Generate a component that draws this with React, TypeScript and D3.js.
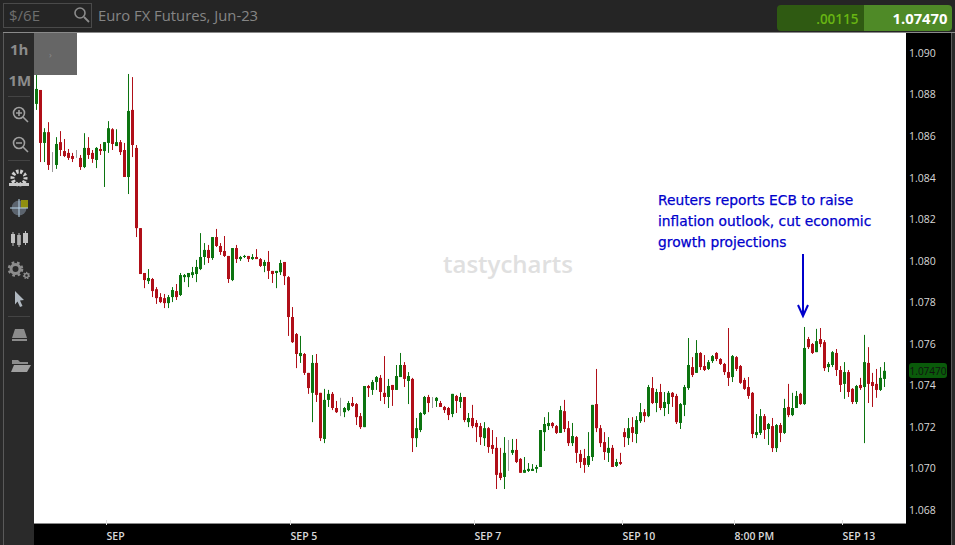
import React, { useRef, useEffect } from "react";
import * as d3 from "d3";

const opens = [
  1.08755,1.08822,1.08567,1.08619,1.08485,1.08461,1.08571,1.08528,1.08519,1.08504,
  1.08509,1.08495,1.08451,1.08543,1.08519,1.08485,1.08538,1.08528,1.08567,1.08633,
  1.08552,1.08571,1.08533,1.08403,1.08726,1.08543,1.08157,1.07941,1.07902,1.07912,
  1.07863,1.07825,1.07820,1.07796,1.07825,1.07854,1.07835,1.07921,1.07921,1.07931,
  1.07936,1.07960,1.08018,1.08052,1.08013,1.08114,1.08071,1.08047,1.08023,1.07907,
  1.08061,1.08008,1.08018,1.08023,1.08008,1.08018,1.08008,1.07975,1.07994,1.07951,
  1.07941,1.07945,1.07994,1.07921,1.07729,1.07647,1.07541,1.07551,1.07460,1.07364,
  1.07508,1.07364,1.07142,1.07330,1.07359,1.07291,1.07296,1.07271,1.07281,1.07315,
  1.07310,1.07252,1.07199,1.07397,1.07378,1.07416,1.07436,1.07364,1.07344,1.07402,
  1.07378,1.07440,1.07498,1.07421,1.07431,1.07146,1.07185,1.07262,1.07344,1.07320,
  1.07325,1.07315,1.07296,1.07291,1.07262,1.07349,1.07320,1.07344,1.07223,1.07243,
  1.07219,1.07204,1.07146,1.07194,1.07113,1.07099,1.06979,1.06959,1.07075,1.07075,
  1.07089,1.07046,1.06979,1.06988,1.06988,1.06998,1.07007,1.07175,1.07204,1.07219,
  1.07204,1.07171,1.07276,1.07194,1.07122,1.07151,1.07070,1.07050,1.07017,1.07055,
  1.07310,1.07194,1.07127,1.07075,1.07099,1.07012,1.07031,1.07175,1.07146,1.07199,
  1.07166,1.07228,1.07271,1.07252,1.07387,1.07315,1.07368,1.07291,1.07310,1.07364,
  1.07349,1.07219,1.07306,1.07387,1.07488,1.07460,1.07556,1.07493,1.07479,1.07517,
  1.07556,1.07527,1.07503,1.07464,1.07440,1.07536,1.07493,1.07426,1.07392,1.07364,
  1.07161,1.07171,1.07252,1.07190,1.07204,1.07098,1.07209,1.07171,1.07296,1.07257,
  1.07291,1.07359,1.07310,1.07623,1.07599,1.07560,1.07623,1.07608,1.07488,1.07498,
  1.07556,1.07474,1.07407,1.07464,1.07383,1.07320,1.07402,1.07392,1.07508,1.07416,
  1.07407,1.07378,1.07431,
];

const closes = [
  1.08827,1.08567,1.08619,1.08461,1.08485,1.08562,1.08533,1.08504,1.08495,1.08490,
  1.08509,1.08451,1.08543,1.08509,1.08490,1.08543,1.08528,1.08571,1.08638,1.08562,
  1.08571,1.08523,1.08403,1.08721,1.08557,1.08157,1.07936,1.07907,1.07917,1.07854,
  1.07820,1.07801,1.07796,1.07825,1.07859,1.07825,1.07931,1.07931,1.07941,1.07945,
  1.07970,1.08018,1.08052,1.08013,1.08114,1.08071,1.08042,1.08023,1.07912,1.08061,
  1.08008,1.08018,1.08023,1.08008,1.08018,1.08008,1.07975,1.07994,1.07951,1.07936,
  1.07951,1.07989,1.07926,1.07729,1.07608,1.07551,1.07556,1.07460,1.07387,1.07508,
  1.07354,1.07146,1.07330,1.07359,1.07291,1.07271,1.07296,1.07291,1.07315,1.07301,
  1.07247,1.07199,1.07397,1.07387,1.07416,1.07440,1.07368,1.07344,1.07397,1.07378,
  1.07445,1.07498,1.07431,1.07445,1.07146,1.07194,1.07267,1.07344,1.07315,1.07320,
  1.07340,1.07296,1.07281,1.07257,1.07359,1.07325,1.07344,1.07233,1.07243,1.07204,
  1.07199,1.07151,1.07194,1.07103,1.07094,1.06969,1.06954,1.07075,1.07075,1.07089,
  1.07031,1.06979,1.06993,1.06998,1.06998,1.07007,1.07185,1.07214,1.07219,1.07204,
  1.07171,1.07281,1.07190,1.07122,1.07156,1.07075,1.07031,1.07017,1.07060,1.07306,
  1.07194,1.07122,1.07079,1.07099,1.07007,1.07031,1.07022,1.07151,1.07194,1.07171,
  1.07233,1.07271,1.07252,1.07392,1.07315,1.07368,1.07291,1.07320,1.07364,1.07344,
  1.07223,1.07310,1.07392,1.07498,1.07450,1.07556,1.07488,1.07474,1.07512,1.07541,
  1.07527,1.07503,1.07464,1.07436,1.07541,1.07479,1.07412,1.07383,1.07349,1.07166,
  1.07175,1.07252,1.07185,1.07214,1.07098,1.07209,1.07171,1.07291,1.07257,1.07291,
  1.07349,1.07310,1.07580,1.07584,1.07556,1.07613,1.07599,1.07483,1.07503,1.07560,
  1.07474,1.07402,1.07464,1.07368,1.07320,1.07397,1.07387,1.07512,1.07407,1.07397,
  1.07378,1.07436,1.07470,
];

const highs = [
  1.08908,1.08822,1.08638,1.08667,1.08523,1.08595,1.08624,1.08586,1.08538,1.08519,
  1.08533,1.08509,1.08614,1.08595,1.08533,1.08547,1.08562,1.08571,1.08672,1.08638,
  1.08633,1.08581,1.08567,1.08899,1.08884,1.08557,1.08157,1.07941,1.07960,1.07917,
  1.07873,1.07844,1.07840,1.07835,1.07873,1.07888,1.07941,1.07936,1.07941,1.07970,
  1.08004,1.08133,1.08085,1.08076,1.08114,1.08153,1.08085,1.08119,1.08023,1.08061,
  1.08076,1.08023,1.08028,1.08023,1.08032,1.08056,1.08013,1.08004,1.08047,1.07951,
  1.07951,1.08004,1.07994,1.07926,1.07777,1.07652,1.07638,1.07556,1.07460,1.07546,
  1.07551,1.07364,1.07383,1.07378,1.07368,1.07325,1.07340,1.07296,1.07325,1.07344,
  1.07315,1.07267,1.07397,1.07402,1.07426,1.07445,1.07450,1.07541,1.07431,1.07402,
  1.07498,1.07556,1.07512,1.07464,1.07436,1.07243,1.07271,1.07349,1.07354,1.07344,
  1.07344,1.07325,1.07301,1.07296,1.07359,1.07354,1.07364,1.07344,1.07267,1.07306,
  1.07233,1.07219,1.07223,1.07199,1.07185,1.07151,1.07099,1.07151,1.07137,1.07142,
  1.07142,1.07050,1.07055,1.07026,1.07021,1.07017,1.07185,1.07247,1.07271,1.07223,
  1.07209,1.07301,1.07330,1.07228,1.07219,1.07156,1.07089,1.07094,1.07175,1.07306,
  1.07479,1.07209,1.07175,1.07151,1.07113,1.07046,1.07075,1.07194,1.07243,1.07247,
  1.07252,1.07315,1.07286,1.07402,1.07440,1.07383,1.07407,1.07368,1.07373,1.07368,
  1.07359,1.07315,1.07402,1.07628,1.07536,1.07618,1.07560,1.07546,1.07522,1.07546,
  1.07560,1.07531,1.07508,1.07676,1.07546,1.07541,1.07498,1.07436,1.07440,1.07368,
  1.07262,1.07286,1.07262,1.07219,1.07243,1.07214,1.07219,1.07335,1.07407,1.07364,
  1.07373,1.07364,1.07681,1.07633,1.07604,1.07672,1.07676,1.07618,1.07512,1.07565,
  1.07575,1.07493,1.07512,1.07474,1.07387,1.07402,1.07436,1.07643,1.07584,1.07460,
  1.07479,1.07488,1.07512,
];

const lows = [
  1.08726,1.08475,1.08475,1.08437,1.08427,1.08442,1.08504,1.08499,1.08485,1.08475,
  1.08495,1.08437,1.08446,1.08490,1.08471,1.08446,1.08509,1.08355,1.08519,1.08533,
  1.08552,1.08509,1.08403,1.08321,1.08499,1.08114,1.07936,1.07868,1.07888,1.07825,
  1.07792,1.07796,1.07772,1.07772,1.07801,1.07811,1.07830,1.07897,1.07873,1.07917,
  1.07897,1.07955,1.07980,1.07989,1.08004,1.08066,1.08028,1.08018,1.07893,1.07902,
  1.07989,1.07999,1.08013,1.07994,1.08004,1.08008,1.07970,1.07945,1.07912,1.07893,
  1.07868,1.07931,1.07883,1.07638,1.07604,1.07483,1.07508,1.07450,1.07359,1.07223,
  1.07320,1.07132,1.07122,1.07296,1.07281,1.07267,1.07252,1.07247,1.07276,1.07296,
  1.07209,1.07190,1.07199,1.07344,1.07354,1.07378,1.07325,1.07310,1.07291,1.07301,
  1.07378,1.07440,1.07392,1.07310,1.07079,1.07103,1.07175,1.07257,1.07271,1.07291,
  1.07296,1.07296,1.07267,1.07233,1.07247,1.07267,1.07291,1.07223,1.07199,1.07194,
  1.07127,1.07113,1.07108,1.07075,1.07070,1.06901,1.06944,1.06901,1.06988,1.07065,
  1.07026,1.06979,1.06979,1.06983,1.06988,1.06979,1.07007,1.07084,1.07185,1.07194,
  1.07166,1.07171,1.07175,1.07108,1.07108,1.07026,1.07002,1.06979,1.07007,1.07036,
  1.07175,1.07103,1.07041,1.07031,1.07007,1.07007,1.07017,1.07103,1.07113,1.07127,
  1.07122,1.07219,1.07223,1.07247,1.07310,1.07271,1.07281,1.07252,1.07262,1.07296,
  1.07214,1.07190,1.07252,1.07378,1.07440,1.07460,1.07474,1.07469,1.07474,1.07508,
  1.07517,1.07498,1.07450,1.07397,1.07416,1.07469,1.07407,1.07378,1.07335,1.07146,
  1.07146,1.07161,1.07142,1.07113,1.07079,1.07079,1.07127,1.07166,1.07247,1.07252,
  1.07291,1.07306,1.07306,1.07575,1.07551,1.07560,1.07584,1.07469,1.07464,1.07488,
  1.07445,1.07368,1.07335,1.07344,1.07310,1.07310,1.07378,1.07122,1.07315,1.07296,
  1.07340,1.07373,1.07392,
];

const priceTicks = [1.068, 1.07, 1.072, 1.074, 1.076, 1.078, 1.08, 1.082, 1.084, 1.086, 1.088, 1.09];
const timeTickIndex = [18, 64, 110, 147, 175, 202];
const timeTickLabels = ["SEP", "SEP 5", "SEP 7", "SEP 10", "8:00 PM", "SEP 13"];
const lastPrice = 1.0747;
const noteLines = [
  "Reuters reports ECB to raise",
  "inflation outlook, cut economic",
  "growth projections",
];
const noteCandle = 192;

const UP = "#0c7410";
const DOWN = "#b00f18";
const DOJI = "#9a9a9a";
const NOTE = "#0000cc";
const FONT = "'Open Sans', sans-serif";

// slots are 4px wide, the half pixel keeps 1px wicks on one pixel column
const x = d3.scaleBand<number>().domain(d3.range(opens.length)).range([34.5, 34.5 + 4 * opens.length]);
const y = d3.scaleLinear().domain([1.068, 1.09]).range([510, 53]);

const Chart = () => {
  const ref = useRef<SVGGElement>(null);

  useEffect(() => {
    const g = d3.select(ref.current);
    g.selectAll("*").remove();

    const mid = (i: number) => (x(i) as number) + x.bandwidth() / 2;
    const color = (i: number) => (closes[i] > opens[i] ? UP : closes[i] < opens[i] ? DOWN : DOJI);

    const candles = g
      .append("g")
      .attr("clip-path", "url(#plot)")
      .selectAll("g")
      .data(d3.range(opens.length))
      .enter()
      .append("g");

    candles
      .append("line")
      .attr("x1", mid)
      .attr("x2", mid)
      .attr("y1", (i) => y(highs[i]))
      .attr("y2", (i) => y(lows[i]))
      .attr("stroke", color)
      .attr("stroke-width", 1);

    candles
      .filter((i) => opens[i] !== closes[i])
      .append("rect")
      .attr("x", (i) => mid(i) - 1.5)
      .attr("width", 3)
      .attr("y", (i) => y(Math.max(opens[i], closes[i])))
      .attr("height", (i) => Math.max(1, Math.abs(y(opens[i]) - y(closes[i]))))
      .attr("fill", color);

    // right axis
    const yAxis = g
      .append("g")
      .attr("transform", "translate(906,0)")
      .call(d3.axisRight(y).tickValues(priceTicks).tickFormat(d3.format(".3f")).tickSize(0).tickPadding(3));
    yAxis.select(".domain").remove();
    yAxis
      .selectAll("text")
      .attr("fill", "#d8d8d8")
      .attr("font-family", FONT)
      .attr("font-size", 10.5);

    // bottom axis, ticks sit on the left edge of the candle slot and labels start there
    const xAxis = g
      .append("g")
      .attr("transform", "translate(0,524)")
      .call(
        d3
          .axisBottom(x)
          .tickValues(timeTickIndex)
          .tickFormat((_, k) => timeTickLabels[k])
          .tickSize(0)
      );
    xAxis.select(".domain").remove();
    xAxis.selectAll(".tick").attr("transform", (d: any) => `translate(${x(d) as number},0)`);
    xAxis
      .selectAll(".tick line")
      .attr("y1", -4)
      .attr("y2", 1)
      .attr("stroke", "#dddddd");
    xAxis
      .selectAll(".tick text")
      .attr("text-anchor", "start")
      .attr("y", 8.5)
      .attr("x", 0)
      .attr("fill", "#d8d8d8")
      .attr("font-family", FONT)
      .attr("font-weight", 600)
      .attr("font-size", 10.5);

    // annotation arrow
    const ax = mid(noteCandle) - 1.5;
    g.append("path")
      .attr("d", d3.line()([[ax, 254], [ax, 316]]) as string)
      .attr("stroke", NOTE)
      .attr("stroke-width", 2)
      .attr("fill", "none");
    g.append("path")
      .attr("d", d3.line()([[ax - 5, 305], [ax, 316], [ax + 5, 305]]) as string)
      .attr("stroke", NOTE)
      .attr("stroke-width", 2)
      .attr("fill", "none");
  }, []);

  return <g ref={ref} />;
};

const Gear = ({ cx, cy, r, w }: { cx: number; cy: number; r: number; w: number }) => (
  <g fill="none" stroke="#8c8c8c">
    <circle cx={cx} cy={cy} r={r} strokeWidth={w} />
    <circle cx={cx} cy={cy} r={r + w * 0.7} strokeWidth={w * 0.8} strokeDasharray={`${w * 0.9} ${w * 0.9}`} />
  </g>
);

const Toolbar = () => (
  <g>
    <text x={10} y={55} fontFamily={FONT} fontWeight={700} fontSize={15} fill="#8c8c8c">1h</text>
    <text x={8.5} y={86} fontFamily={FONT} fontWeight={700} fontSize={15} fill="#8c8c8c">1M</text>
    <rect x={8} y={96} width={22} height={1} fill="#444" />
    <rect x={8} y={160} width={22} height={1} fill="#444" />
    <rect x={8} y={316} width={22} height={1} fill="#444" />
    {/* zoom in */}
    <g stroke="#a0a0a0" fill="none" strokeWidth={1.6}>
      <circle cx={19} cy={113} r={5.5} />
      <path d="M23 117l5 5M16 113h6M19 110v6" />
      <circle cx={19} cy={143} r={5.5} />
      <path d="M23 147l5 5M16 143h6" />
    </g>
    {/* speed gauge */}
    <circle cx={19} cy={178} r={6.5} fill="none" stroke="#d0d0d0" strokeWidth={4} strokeDasharray="2.5 1.5" strokeDashoffset={1} />
    <path d="M9 186h20v-3H9z" fill="#c8c8c8" />
    <path d="M19 183l6-11-9 8z" fill="#2a2a2a" />
    {/* crosshair */}
    <circle cx={19} cy={208} r={7.5} fill="#5c646e" />
    <rect x={21} y={200} width={7} height={8} fill="#8f8f10" />
    <path d="M19 199v18M10 208h18" stroke="#b8d4e8" strokeWidth={1} />
    {/* candles */}
    <g fill="#c0c0c0">
      <rect x={11} y={234} width={4} height={9} />
      <rect x={17} y={235} width={4} height={10} fill="#9a9a9a" />
      <rect x={23} y={233} width={5} height={10} />
      <path d="M13 232v14M19 233v14M25.5 231v14" stroke="#c0c0c0" strokeWidth={1} />
    </g>
    {/* gears */}
    <Gear cx={15.5} cy={269} r={4.5} w={3} />
    <Gear cx={26.5} cy={275.5} r={2} w={1.5} />
    {/* pointer */}
    <path d="M15 291l9 9-4 .5 2.5 5.5-2.5 1-2.500-5.500-2.500 3z" fill="#b0b8c0" />
    {/* trapezoid */}
    <path d="M15 329h9l3 9H12z" fill="#8c8c8c" />
    <rect x={12} y={339} width={15} height={2} fill="#8c8c8c" />
    {/* folder */}
    <path d="M12 360h6l2 2h8v2h-16z" fill="#8c8c8c" />
    <path d="M11 372l3-7h17l-4 7z" fill="#a0a0a0" />
  </g>
);

export default function App() {
  return (
    <svg width={955} height={545} style={{ position: "absolute", left: 0, top: 0 }}>
      <defs>
        <clipPath id="plot">
          <rect x={34} y={33} width={872} height={491} />
        </clipPath>
      </defs>
      <rect width={955} height={545} fill="#2a2a2a" />
      <rect x={0} y={0} width={955} height={32} fill="#252525" />
      <rect x={3} y={33} width={1} height={512} fill="#5a5a5a" />
      <rect x={3} y={32} width={952} height={1} fill="#8a8a8a" />

      {/* header */}
      <rect x={3.5} y={3.5} width={88} height={24} fill="none" stroke="#4a4a4a" />
      <text x={9} y={21} fontFamily={FONT} fontSize={15} fill="#6e6e6e">$/6E</text>
      <circle cx={80} cy={13} r={5} fill="none" stroke="#8c8c8c" strokeWidth={1.6} />
      <path d="M84 17l5 5" stroke="#8c8c8c" strokeWidth={1.8} />
      <text x={98} y={21} fontFamily={FONT} fontSize={14.8} fill="#858585">Euro FX Futures, Jun-23</text>

      <path d="M864 5h-83a4 4 0 0 0 -4 4v18a4 4 0 0 0 4 4h83z" fill="#2f5a12" />
      <path d="M864 5h84a4 4 0 0 1 4 4v18a4 4 0 0 1 -4 4h-84z" fill="#4f8a27" />
      <text x={858.5} y={24} textAnchor="end" fontFamily={FONT} fontWeight={600} fontSize={13.5} fill="#68b512">.00115</text>
      <text x={947.5} y={24} textAnchor="end" fontFamily={FONT} fontWeight={700} fontSize={14.8} fill="#ffffff">1.07470</text>

      {/* panels */}
      <rect x={34} y={33} width={872} height={491} fill="#ffffff" />
      <rect x={906} y={33} width={46} height={512} fill="#000000" />
      <rect x={34} y={524} width={918} height={21} fill="#000000" />
      <rect x={34} y={523} width={872} height={1} fill="#8a8a8a" />
      <rect x={951} y={33} width={1} height={512} fill="#5a5a5a" />

      <Toolbar />

      <text x={508} y={273} textAnchor="middle" fontFamily={FONT} fontWeight={600} fontSize={24} fill="#e0e0e0">tastycharts</text>

      <Chart />

      <rect x={34} y={33} width={43} height={42} fill="#666666" />
      <text x={49} y={58} fontFamily={FONT} fontSize={9} fill="#8c8c8c">›</text>

      {/* last price tag */}
      <rect x={909} y={363} width={38} height={15} rx={3} fill="#0a5a0a" />
      <text x={928} y={374.5} textAnchor="middle" fontFamily={FONT} fontSize={10} fill="#111111">{d3.format(".5f")(lastPrice)}</text>

      {/* note */}
      {noteLines.map((line, i) => (
        <text key={line} x={658} y={205 + i * 21} fontFamily="'DejaVu Sans', sans-serif" fontSize={13.8} fill={NOTE} stroke={NOTE} strokeWidth={0.25}>{line}</text>
      ))}
    </svg>
  );
}
